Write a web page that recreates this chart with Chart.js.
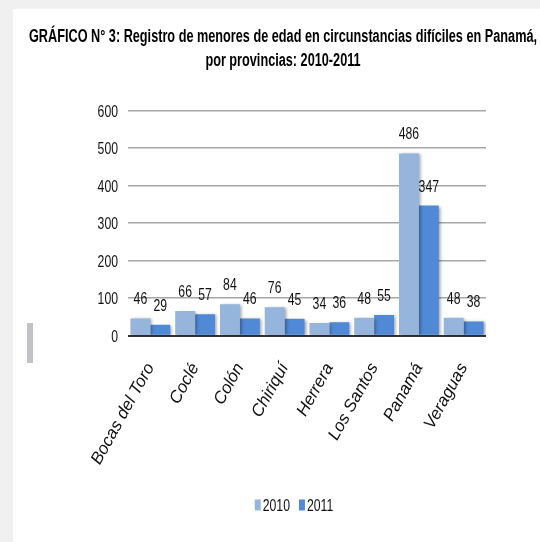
<!DOCTYPE html>
<html>
<head>
<meta charset="utf-8">
<script src="https://cdn.jsdelivr.net/npm/chart.js@4.4.1/dist/chart.umd.min.js"></script>
<style>
  html, body { margin: 0; padding: 0; background: #f0f0f0; width: 540px; height: 542px; overflow: hidden; }
  #panel { position: absolute; left: 13px; top: 9px; width: 527px; height: 533px; background: #ffffff; }
  #grip { position: absolute; left: 27px; top: 323px; width: 6px; height: 40px; background: #c3c3c7; }
  canvas { position: absolute; left: 0; top: 0; }
</style>
</head>
<body>
<div id="panel"><canvas id="c" width="527" height="533"></canvas></div>
<div id="grip"></div>
<script>
const categories = ["Bocas del Toro", "Coclé", "Colón", "Chiriquí", "Herrera", "Los Santos", "Panamá", "Veraguas"];
const seriesNames = ["2010", "2011"];
const values2010 = [46, 66, 84, 76, 34, 48, 486, 48];
const values2011 = [29, 57, 46, 45, 36, 55, 347, 38];
const yTicks = [0, 100, 200, 300, 400, 500, 600];
const titleLines = ["GRÁFICO N° 3: Registro de menores de edad en circunstancias difíciles en Panamá,", "por provincias: 2010-2011"];

const SANS = "'Liberation Sans', Arial, sans-serif";
const colors = ["#95b5dd", "#5089d6"];
const TEXT = '#111111';

// draw text compressed horizontally (Arial Narrow look)
function narrowText(ctx, text, x, y, font, align, sx, color) {
  ctx.save();
  ctx.font = font;
  ctx.fillStyle = color;
  ctx.textAlign = align;
  ctx.textBaseline = 'alphabetic';
  ctx.translate(x, y);
  ctx.scale(sx, 1);
  ctx.fillText(text, 0, 0);
  ctx.restore();
}

const shadowPlugin = {
  id: 'barShadow',
  beforeDatasetsDraw(chart) {
    const ctx = chart.ctx;
    ctx.save();
    ctx.shadowColor = 'rgba(0,0,0,0.35)';
    ctx.shadowBlur = 3;
    ctx.shadowOffsetX = 2;
    ctx.shadowOffsetY = 1;
  },
  afterDatasetsDraw(chart) {
    chart.ctx.restore();
  }
};

const textPlugin = {
  id: 'texts',
  afterDraw(chart) {
    const ctx = chart.ctx;
    const lblFont = "17px " + SANS;
    // title
    const tFont = "bold 18px " + SANS;
    ctx.save();
    ctx.font = tFont;
    const w1 = ctx.measureText(titleLines[0]).width;
    ctx.restore();
    const tsx = 508 / w1;
    narrowText(ctx, titleLines[0], 270, 32.5, tFont, 'center', tsx, '#000');
    narrowText(ctx, titleLines[1], 270, 56.5, tFont, 'center', tsx, '#000');
    // y tick labels
    const ys = chart.scales.y;
    yTicks.forEach(v => {
      narrowText(ctx, String(v), chart.chartArea.left - 10, ys.getPixelForValue(v) + 6, lblFont, 'right', 0.72, TEXT);
    });
    // value labels
    chart.data.datasets.forEach((ds, i) => {
      chart.getDatasetMeta(i).data.forEach((bar, j) => {
        narrowText(ctx, String(ds.data[j]), bar.x, bar.y - 14, lblFont, 'center', 0.72, TEXT);
      });
    });
    // legend
    const boxW = 6, boxH = 11, gapBox = 2, gapItem = 9, sx = 0.72;
    ctx.save();
    ctx.font = lblFont;
    const items = chart.data.datasets.map(ds => ({ text: ds.label, color: ds.backgroundColor, w: ctx.measureText(ds.label).width * sx }));
    ctx.restore();
    const total = items.reduce((s, it) => s + boxW + gapBox + it.w, 0) + gapItem * (items.length - 1);
    let x = 281 - total / 2;
    const y = 496;
    items.forEach(it => {
      ctx.fillStyle = it.color;
      ctx.fillRect(x, y - boxH / 2, boxW, boxH);
      x += boxW + gapBox;
      narrowText(ctx, it.text, x, y + 6, lblFont, 'left', sx, TEXT);
      x += it.w + gapItem;
    });
  }
};

new Chart(document.getElementById('c'), {
  type: 'bar',
  data: {
    labels: categories,
    datasets: [
      { label: seriesNames[0], data: values2010, backgroundColor: colors[0], categoryPercentage: 0.89, barPercentage: 1.0 },
      { label: seriesNames[1], data: values2011, backgroundColor: colors[1], categoryPercentage: 0.89, barPercentage: 1.0 }
    ]
  },
  options: {
    responsive: false,
    animation: false,
    devicePixelRatio: 1,
    layout: { padding: { left: 0, right: 54, top: 101.7, bottom: 0 } },
    plugins: {
      legend: { display: false },
      tooltip: { enabled: false },
      title: { display: false }
    },
    scales: {
      x: {
        grid: { display: false, drawTicks: false },
        border: { display: false },
        ticks: {
          color: TEXT,
          font: { family: SANS, size: 17, style: 'italic' },
          minRotation: 61, maxRotation: 61,
          padding: 24,
          autoSkip: false
        },
        afterFit(axis) { axis.height = 533 - 326.7; }
      },
      y: {
        min: 0, max: 600,
        afterBuildTicks(axis) { axis.ticks = yTicks.map(v => ({ value: v })); },
        grid: {
          drawTicks: false,
          color: (c) => c.tick && c.tick.value === 0 ? '#333333' : '#a6a6a6',
          lineWidth: (c) => c.tick && c.tick.value === 0 ? 2 : 1.5
        },
        border: { display: false },
        ticks: { display: false },
        afterFit(axis) { axis.width = 115; }
      }
    }
  },
  plugins: [shadowPlugin, textPlugin]
});
</script>
</body>
</html>
